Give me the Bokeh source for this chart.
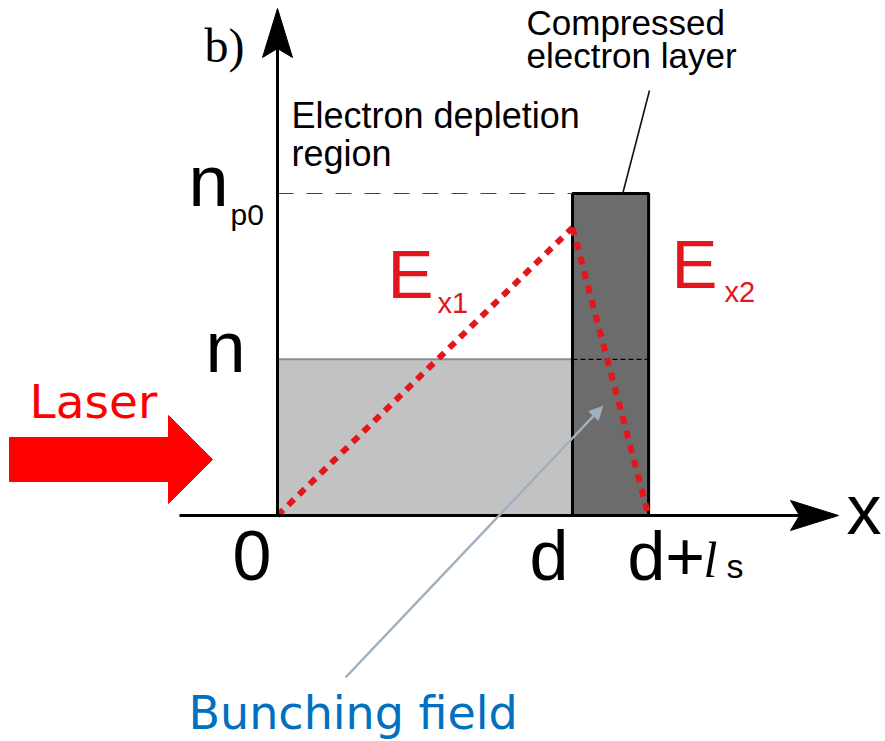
from bokeh.plotting import figure
from bokeh.models import Arrow, NormalHead
from bokeh.core.properties import value
from bokeh.embed import file_html
from bokeh.resources import INLINE

# Physical quantities of the sketch (x in units of d, density in units of n_p0)
D = 1.0            # width of the electron depletion region, d
LS = 0.258         # thickness of the compressed electron layer, l_s
N0 = 0.485         # background density n
NP0 = 1.0          # peak density n_p0 in the compressed layer
E_PEAK = 0.894     # field maximum at x = d (arbitrary units)

# Field profile: E_x1 rises over [0, d], E_x2 falls over [d, d+l_s]
ex1_x = [0.0, D]
ex1_y = [0.0, E_PEAK]
ex2_x = [D, D + LS]
ex2_y = [E_PEAK, 0.0]

# Canvas geometry: pixels per unit and position of the origin on the page
W, H = 885, 741
SX, SY = 295.0, 322.0
OX, OY = 277.0, 515.0


def gx(px):
    """page pixel column -> x data coordinate"""
    return (px - OX) / SX


def gy(py):
    """page pixel row -> y data coordinate"""
    return (OY - py) / SY


p = figure(width=W, height=H, x_range=(gx(0), gx(W)), y_range=(gy(H), gy(0)),
           output_backend="svg", toolbar_location=None,
           x_axis_location=None, y_axis_location=None, min_border=0)
p.grid.visible = False
p.outline_line_color = None
p.background_fill_color = "white"
p.border_fill_color = "white"

RED = "#e3161d"
SANS = value("Liberation Sans")

# depleted region (ions only) and compressed electron layer
p.quad(left=[0.0], right=[D], bottom=[0.0], top=[N0],
       fill_color="#c2c2c2", line_color=None)
p.line([0.0, D], [N0, N0], line_color="#8c8c8c", line_width=2)
p.quad(left=[D], right=[D + LS], bottom=[0.0], top=[NP0],
       fill_color="#6c6c6c", line_color="black", line_width=3)

# reference levels
p.line([0.0, D], [NP0, NP0], line_color="#444444", line_width=1.2,
       line_dash="16 13")
p.line([D, D + LS], [N0, N0], line_color="black", line_width=1.2,
       line_dash="5 3")

# electric field
p.line(ex1_x, ex1_y, line_color=RED, line_width=6, line_dash="8 7")
p.line(ex2_x, ex2_y, line_color=RED, line_width=6, line_dash="8 7")

# axes with stealth arrow heads
p.line([0.0, 0.0], [0.0, gy(30)], line_color="black", line_width=3)
p.patch([gx(277), gx(262), gx(277), gx(292)],
        [gy(8), gy(57), gy(48), gy(57)], fill_color="black", line_color="black")
p.line([gx(179), gx(815)], [0.0, 0.0], line_color="black", line_width=3)
p.patch([gx(838), gx(790), gx(799), gx(790)],
        [gy(515), gy(500), gy(515), gy(530)], fill_color="black", line_color="black")

# laser arrow
p.patch([gx(9), gx(168), gx(168), gx(212), gx(168), gx(168), gx(9)],
        [gy(437), gy(437), gy(415), gy(459), gy(503), gy(481), gy(481)],
        fill_color="#ff0000", line_color="#ff0000")

# leader for the compressed layer label
p.line([gx(649), D + 0.66 * LS], [gy(90), NP0], line_color="#111111", line_width=1.6)

# bunching field pointer
BLUE_GRAY = "#9fb0c1"
p.add_layout(Arrow(end=NormalHead(size=13, fill_color=BLUE_GRAY, line_color=BLUE_GRAY),
                   x_start=gx(345), y_start=gy(677), x_end=gx(602), y_end=gy(406),
                   line_color=BLUE_GRAY, line_width=2.5))


def label(px, py, txt, size, color="black", font=SANS, style="normal"):
    # py is the wanted baseline row; the svg text sits ~0.37 em lower,
    # so lift the anchor by that amount
    lift = 0.37 * size
    p.text(x=[gx(px)], y=[gy(py - lift)], text=[txt], text_font=font,
           text_font_size=f"{size}px", text_color=color, text_align="left",
           text_baseline="alphabetic", text_font_style=style)


label(204, 63, "b)", 48, font=value("Liberation Serif"))
label(291, 128, "Electron depletion", 36)
label(291, 166, "region", 36)
label(526, 35, "Compressed", 35)
label(526, 68, "electron layer", 35)

label(188, 207, "n", 72)
label(230, 225, "p0", 30)
label(205, 373, "n", 72)

label(387, 300, "E", 69, color=RED)
label(437, 313, "x1", 29, color=RED)
label(671, 290, "E", 69, color=RED)
label(724, 302, "x2", 29, color=RED)

label(232, 581, "0", 70)
label(529, 581, "d", 70)
label(627, 581, "d+", 68)
label(703, 578, "l", 50, font=value("Liberation Serif"), style="italic")
label(726, 578, "s", 34)
label(846, 535, "x", 70)

label(29, 418, "Laser", 47, color="#ff0000", font=value("DejaVu Sans"))
label(188, 730, "Bunching field", 46, color="#0070c0", font=value("DejaVu Sans"))

open("out.html", "w").write(file_html(p, INLINE))
